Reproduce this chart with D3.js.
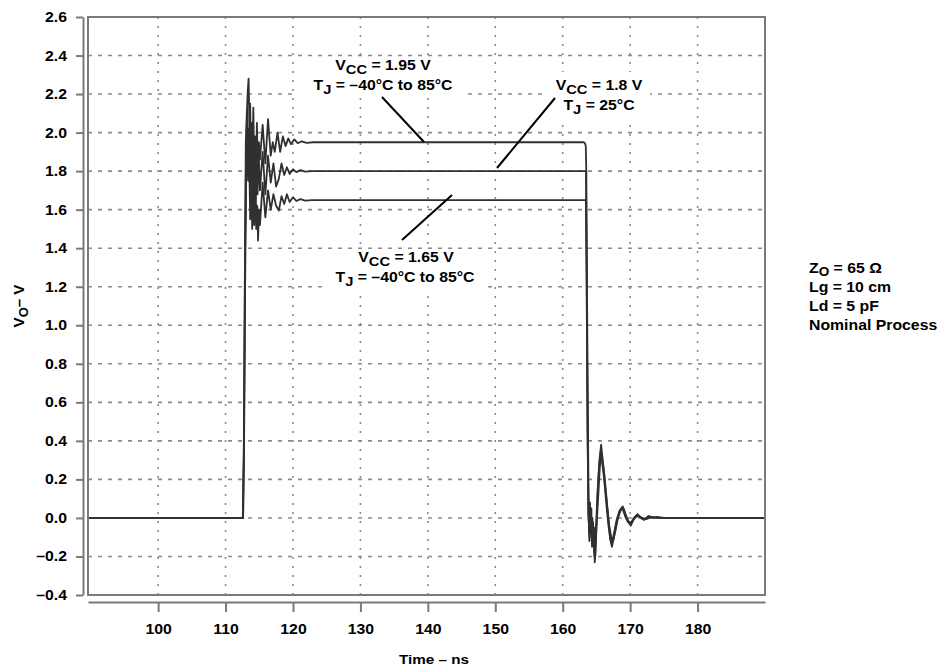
<!DOCTYPE html>
<html>
<head>
<meta charset="utf-8">
<script src="https://cdn.jsdelivr.net/npm/d3@7"></script>
<style>
  html, body { margin: 0; padding: 0; background: #fff; }
  svg { display: block; }
  text { font-family: "Liberation Sans", Arial, Helvetica, sans-serif; font-weight: bold; fill: #000; }
</style>
</head>
<body>
<svg id="chart" width="940" height="669"></svg>
<script>
// ---------- DATA ----------
const timeTicks = [100, 110, 120, 130, 140, 150, 160, 170, 180];
const voltTicks = [-0.4, -0.2, 0.0, 0.2, 0.4, 0.6, 0.8, 1.0, 1.2, 1.4, 1.6, 1.8, 2.0, 2.2, 2.4, 2.6];
const timeDomain = [89.6, 190.0];
const voltDomain = [-0.4, 2.6];

// [time ns, volts] — VCC = 1.95 V, TJ = –40°C to 85°C
const trace195 = [
  [89.6, 0], [112.55, 0], [112.7, 0.3], [112.85, 1.2], [113.0, 1.95], [113.15, 2.1], [113.3, 2.22], [113.42, 2.28],
  [113.55, 2.0], [113.65, 2.15], [113.78, 1.82], [113.9, 2.05], [114.0, 1.9], [114.12, 2.13], [114.25, 1.8],
  [114.4, 1.98], [114.52, 1.85], [114.65, 2.05], [114.8, 1.78], [114.95, 1.95],
  [115.1, 1.86], [115.5, 2.04], [115.9, 1.84], [116.3, 2.07], [116.7, 1.88], [117.0, 1.95], [117.3, 1.9],
  [117.7, 2.0], [118.1, 1.9], [118.5, 1.98], [118.9, 1.93], [119.3, 1.97], [119.7, 1.94], [120.2, 1.965],
  [120.7, 1.945], [121.3, 1.955], [122.0, 1.947], [123.0, 1.95],
  [163.1, 1.95], [163.3, 1.945], [163.42, 1.93], [163.5, 1.8], [163.6, 1.2], [163.72, 0.6], [163.85, 0.05],
  [163.95, -0.12], [164.05, 0.08], [164.15, -0.05], [164.25, 0.05], [164.35, -0.15], [164.45, -0.02],
  [164.55, -0.1], [164.65, -0.05], [164.75, -0.23], [164.85, -0.18], [164.95, -0.1], [165.2, 0.15],
  [165.45, 0.3], [165.7, 0.38], [165.9, 0.31], [166.2, 0.22], [166.5, 0.1], [166.8, -0.02], [167.1, -0.12],
  [167.3, -0.15], [167.6, -0.1], [168.0, -0.02], [168.5, 0.04], [168.9, 0.06], [169.3, 0.02], [169.7, -0.02],
  [170.1, -0.04], [170.6, 0.0], [171.1, 0.02], [171.6, 0.0], [172.1, -0.01], [172.7, 0.01], [173.3, 0.0],
  [174.0, 0.005], [175.0, 0], [190.0, 0]
];

// VCC = 1.8 V, TJ = 25°C
const trace180 = [
  [89.6, 0], [112.6, 0], [112.75, 0.5], [112.9, 1.4], [113.05, 1.9], [113.2, 2.12], [113.35, 1.85], [113.5, 2.02],
  [113.62, 1.7], [113.75, 1.95], [113.88, 1.62], [114.0, 1.9], [114.15, 1.7], [114.3, 1.92], [114.45, 1.6],
  [114.6, 1.85], [114.75, 1.68], [114.9, 1.9],
  [115.1, 1.7], [115.5, 1.9], [115.9, 1.68], [116.3, 1.88], [116.7, 1.74], [117.1, 1.84], [117.5, 1.72],
  [117.9, 1.76], [118.3, 1.84], [118.7, 1.78], [119.1, 1.82], [119.5, 1.785], [120.0, 1.81], [120.5, 1.795],
  [121.1, 1.805], [121.8, 1.797], [122.8, 1.8],
  [163.45, 1.8], [163.55, 1.3], [163.68, 0.5], [163.82, 0.0], [163.95, -0.08], [164.05, 0.06], [164.15, -0.02],
  [164.3, -0.12], [164.4, 0.0], [164.5, -0.06], [164.7, -0.2], [164.9, -0.08], [165.15, 0.12], [165.4, 0.27],
  [165.65, 0.35], [165.85, 0.29], [166.15, 0.2], [166.45, 0.08], [166.75, -0.03], [167.05, -0.11], [167.3, -0.13],
  [167.6, -0.08], [168.0, -0.01], [168.45, 0.04], [168.85, 0.05], [169.25, 0.01], [169.65, -0.02], [170.05, -0.03],
  [170.55, 0.0], [171.05, 0.015], [171.55, 0.0], [172.1, -0.008], [172.8, 0.008], [173.6, 0.0], [174.6, 0], [190.0, 0]
];

// VCC = 1.65 V, TJ = –40°C to 85°C
const trace165 = [
  [89.6, 0], [112.6, 0], [112.75, 0.4], [112.9, 1.2], [113.05, 1.75], [113.2, 2.0], [113.35, 1.75], [113.5, 1.9],
  [113.65, 1.55], [113.8, 1.82], [113.95, 1.5], [114.1, 1.75], [114.25, 1.52], [114.4, 1.78], [114.55, 1.5],
  [114.7, 1.62], [114.82, 1.44], [114.95, 1.6],
  [115.1, 1.52], [115.5, 1.74], [115.9, 1.56], [116.3, 1.7], [116.7, 1.6], [117.1, 1.68], [117.5, 1.62],
  [117.9, 1.595], [118.3, 1.67], [118.7, 1.63], [119.1, 1.68], [119.5, 1.64], [120.0, 1.665], [120.5, 1.645],
  [121.1, 1.655], [121.8, 1.647], [122.8, 1.65],
  [163.45, 1.65], [163.55, 1.2], [163.68, 0.45], [163.82, 0.02], [164.0, -0.1], [164.1, 0.03], [164.2, 0.0],
  [164.4, -0.14], [164.5, -0.03], [164.6, -0.08], [164.8, -0.21], [165.0, -0.05], [165.25, 0.1], [165.5, 0.26],
  [165.75, 0.33], [166.0, 0.27], [166.3, 0.16], [166.6, 0.06], [166.9, -0.04], [167.2, -0.1], [167.45, -0.12],
  [167.8, -0.07], [168.2, 0.0], [168.6, 0.04], [169.0, 0.05], [169.4, 0.01], [169.8, -0.02], [170.2, -0.025],
  [170.7, 0.0], [171.2, 0.012], [171.8, 0.0], [172.4, -0.006], [173.2, 0.005], [174.2, 0], [190.0, 0]
];

const noteLines = ["Lg = 10 cm", "Ld = 5 pF", "Nominal Process"];

// ---------- CHART ----------
const SX = 1.13;           // horizontal stretch of the scanned lettering
const FS = 14;             // font size
const svg = d3.select("#chart");
const plotL = 88, plotR = 765, plotT = 17, plotB = 595;

const x = d3.scaleLinear().domain(timeDomain).range([plotL, plotR]);
const y = d3.scaleLinear().domain(voltDomain).range([plotB, plotT]);

const fmt = v => (v < 0 ? "\u2013" + Math.abs(v).toFixed(1) : v.toFixed(1));

// stretched text helper
function stext(px, py, anchor, size) {
  return svg.append("g").attr("transform", `translate(${px},${py}) scale(${SX},1)`)
    .append("text").attr("text-anchor", anchor).style("font-size", size + "px");
}

// Grid
const grid = svg.append("g");
grid.selectAll("line.h").data(voltTicks.filter(v => v > -0.4 && v < 2.6)).join("line")
  .attr("x1", plotL).attr("x2", plotR)
  .attr("y1", d => y(d)).attr("y2", d => y(d))
  .attr("stroke", "#8a8a8a").attr("stroke-width", 1.6)
  .attr("stroke-dasharray", "4,6");
grid.selectAll("line.v").data(timeTicks).join("line")
  .attr("x1", d => x(d)).attr("x2", d => x(d))
  .attr("y1", plotT).attr("y2", plotB)
  .attr("stroke", "#8a8a8a").attr("stroke-width", 1.6)
  .attr("stroke-dasharray", "2,7");

// Annotation boxes (white backgrounds that hide grid)
const boxes = [
  {x: 297, y: 57, w: 165, h: 39},
  {x: 546, y: 72, w: 104, h: 46},
  {x: 322, y: 249, w: 166, h: 42}
];
svg.append("g").selectAll("rect").data(boxes).join("rect")
  .attr("x", d => d.x).attr("y", d => d.y).attr("width", d => d.w).attr("height", d => d.h)
  .attr("fill", "#fff");

// Traces
svg.append("clipPath").attr("id", "clip").append("rect")
  .attr("x", plotL).attr("y", plotT).attr("width", plotR - plotL).attr("height", plotB - plotT);

const line = d3.line().x(d => x(d[0])).y(d => y(d[1]));
svg.append("g").attr("clip-path", "url(#clip)")
  .selectAll("path").data([trace165, trace180, trace195]).join("path")
  .attr("d", line)
  .attr("fill", "none")
  .attr("stroke", "#303030")
  .attr("stroke-width", 1.8)
  .attr("stroke-linejoin", "round");

// Frame
svg.append("rect").attr("x", plotL).attr("y", plotT).attr("width", plotR - plotL).attr("height", plotB - plotT)
  .attr("fill", "none").attr("stroke", "#7a7a7a").attr("stroke-width", 2);

// Y axis (offset)
const yAxis = d3.axisLeft(y).tickValues(voltTicks).tickFormat(fmt).tickSize(7).tickSizeOuter(0).tickPadding(9);
const gy = svg.append("g").attr("transform", "translate(83,0)").call(yAxis);
gy.select(".domain").attr("stroke", "#7a7a7a").attr("stroke-width", 2);
gy.selectAll(".tick line").attr("stroke", "#7a7a7a").attr("stroke-width", 2);
gy.selectAll(".tick text")
  .attr("x", -16 / SX).attr("transform", `scale(${SX},1)`)
  .style("font-size", FS + "px").style("font-family", "'Liberation Sans', Arial, sans-serif").style("font-weight", "bold").attr("fill", "#000");

// X axis (offset)
const xAxis = d3.axisBottom(x).tickValues(timeTicks).tickFormat(d3.format("d")).tickSize(10).tickSizeOuter(0).tickPadding(12);
const gx = svg.append("g").attr("transform", "translate(0,602)").call(xAxis);
gx.select(".domain").attr("stroke", "#7a7a7a").attr("stroke-width", 2);
gx.selectAll(".tick line").attr("stroke", "#7a7a7a").attr("stroke-width", 2);
gx.selectAll(".tick text").attr("transform", `scale(${SX},1)`)
  .style("font-size", FS + "px").style("font-family", "'Liberation Sans', Arial, sans-serif").style("font-weight", "bold").attr("fill", "#000");

// Axis titles
stext(434, 664, "middle", 13.5).text("Time \u2013 ns");

const ytG = svg.append("g").attr("transform", "translate(24,306) rotate(-90) scale(1.08,1)");
const yt = ytG.append("text").attr("text-anchor", "middle").style("font-size", "14px");
yt.append("tspan").text("V");
yt.append("tspan").attr("dy", 4).style("font-size", "12px").text("O");
yt.append("tspan").attr("dy", -4).text("\u2013 V");

// Annotation text helper
function label(cx, baseline, main, sub, rest) {
  const t = stext(cx, baseline, "middle", FS);
  t.append("tspan").text(main);
  t.append("tspan").attr("dy", 4).style("font-size", "13px").text(sub);
  t.append("tspan").attr("dy", -4).text(rest);
}
label(383, 70, "V", "CC", " = 1.95 V");
label(383, 90, "T", "J", " = \u201340\u00B0C to 85\u00B0C");
label(599, 90, "V", "CC", " = 1.8 V");
label(599, 110, "T", "J", " = 25\u00B0C");
label(406, 262, "V", "CC", " = 1.65 V");
label(405, 282, "T", "J", " = \u201340\u00B0C to 85\u00B0C");

// Leader lines
const leaders = [
  [[382, 97], [424, 142]],
  [[555, 98], [497, 168]],
  [[402, 240], [452, 195]]
];
svg.append("g").selectAll("line").data(leaders).join("line")
  .attr("x1", d => d[0][0]).attr("y1", d => d[0][1])
  .attr("x2", d => d[1][0]).attr("y2", d => d[1][1])
  .attr("stroke", "#000").attr("stroke-width", 2);

// Side note
const z = stext(809, 273, "start", FS);
z.append("tspan").text("Z");
z.append("tspan").attr("dy", 3).style("font-size", "12px").text("O");
z.append("tspan").attr("dy", -3).text(" = 65 \u03A9");
noteLines.forEach((d, i) => { stext(809, 292 + i * 19, "start", FS).text(d); });
</script>
</body>
</html>
